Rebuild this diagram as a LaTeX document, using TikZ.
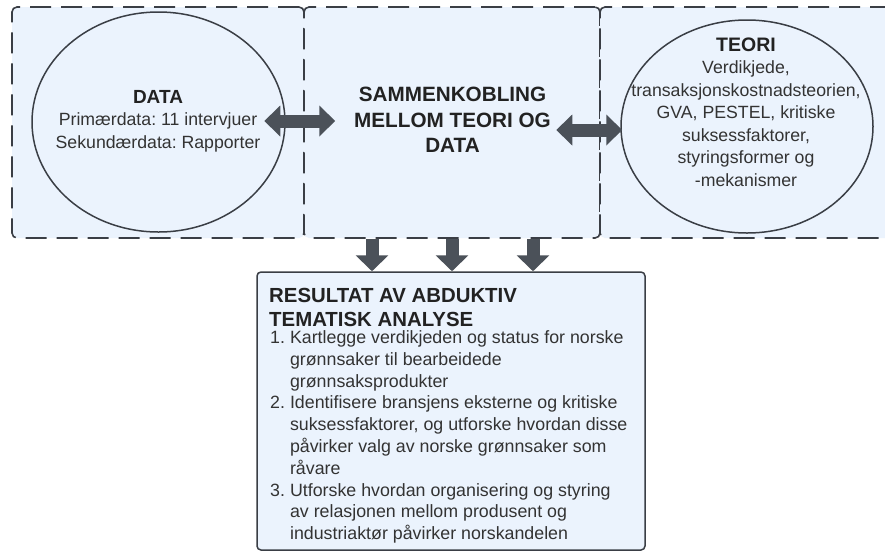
\documentclass[tikz,border=0pt]{standalone}
\usepackage{fontspec}
\setmainfont{Liberation Sans}
\frenchspacing
\usetikzlibrary{arrows.meta,shapes.geometric}
\definecolor{panelfill}{HTML}{EBF3FD}
\definecolor{linegray}{HTML}{3A3E45}
\definecolor{arrowgray}{HTML}{4B5159}
\definecolor{textgray}{HTML}{333333}
\definecolor{headgray}{HTML}{222222}

\begin{document}
\begin{tikzpicture}[x=1pt,y=-1pt,
  panel/.style={draw=linegray, fill=panelfill, line width=1.6pt,
    dash pattern=on 21pt off 10pt, rounded corners=5pt, inner sep=0pt},
  oval/.style={draw=linegray, line width=1.5pt, ellipse, inner sep=0pt},
  resultbox/.style={draw=linegray, fill=panelfill, line width=1.5pt,
    rounded corners=4pt, inner sep=0pt},
  txt/.style={inner sep=0pt, anchor=base, text=textgray},
  sidearrow/.style={draw=arrowgray, line width=13pt,
    {Triangle[length=16pt,width=30pt]}-{Triangle[length=16pt,width=30pt]}},
  downarrow/.style={draw=arrowgray, line width=13pt,
    -{Triangle[length=16pt,width=32pt]}},
]
\useasboundingbox (0,0) rectangle (885,552);
\fill[white] (0,0) rectangle (885,552);
\clip (0,0) rectangle (885,552);

% dashed panels
\node[panel, minimum width=292pt, minimum height=231pt] (pdata) at (158,122.5) {};
\node[panel, minimum width=296pt, minimum height=231pt] (pmid) at (452,122.5) {};
\node[panel, minimum width=296pt, minimum height=231pt] (pteori) at (748,122.5) {};

% ellipses
\node[oval, minimum width=253pt, minimum height=220pt] (data) at (158.5,122) {};
\node[oval, minimum width=252pt, minimum height=213pt] (teori) at (747,126.5) {};

% texts inside panels
\node[txt] (datatxt) at (158,103.5) {%
  \fontsize{17.7}{22.3}\selectfont
  \begin{tabular}[t]{@{}c@{}}
  \fontsize{19}{22.3}\selectfont\bfseries\color{headgray}DATA\\
  Primærdata: 11 intervjuer\\
  Sekundærdata: Rapporter
  \end{tabular}};

\node[txt] (midtxt) at (452.5,101.5) {%
  \fontsize{20.7}{25.5}\selectfont\bfseries\color{headgray}
  \begin{tabular}[t]{@{}c@{}}
  SAMMENKOBLING\\
  MELLOM TEORI OG\\
  DATA
  \end{tabular}};

\node[txt] (teoritxt) at (746,51) {%
  \fontsize{17.7}{22.5}\selectfont
  \begin{tabular}[t]{@{}c@{}}
  \fontsize{19.5}{22.5}\selectfont\bfseries\color{headgray}TEORI\\
  Verdikjede,\\
  transaksjonskostnadsteorien,\\
  GVA, PESTEL, kritiske\\
  suksessfaktorer,\\
  styringsformer og\\
  -mekanismer
  \end{tabular}};

% result box
\node[resultbox, minimum width=388pt, minimum height=278pt] (result) at (451,411) {};

\node[txt, anchor=base west] (reshead) at (269,302) {%
  \fontsize{20.4}{24}\selectfont\bfseries\color{headgray}
  \begin{tabular}[t]{@{}l@{}}
  RESULTAT AV ABDUKTIV\\
  TEMATISK ANALYSE
  \end{tabular}};

\node[txt, anchor=base west] (reslist) at (270,343.5) {%
  \fontsize{17.8}{21.8}\selectfont
  \begin{tabular}[t]{@{}l@{\hspace{5pt}}l@{}}
  1. & Kartlegge verdikjeden og status for norske\\
     & grønnsaker til bearbeidede\\
     & grønnsaksprodukter\\
  2. & Identifisere bransjens eksterne og kritiske\\
     & suksessfaktorer, og utforske hvordan disse\\
     & påvirker valg av norske grønnsaker som\\
     & råvare\\
  3. & Utforske hvordan organisering og styring\\
     & av relasjonen mellom produsent og\\
     & industriaktør påvirker norskandelen
  \end{tabular}};

% connectors
\draw[sidearrow] ([xshift=-21.5pt,yshift=1pt]data.east) -- ([xshift=49.5pt,yshift=1pt]data.east);
\draw[sidearrow] ([xshift=2pt,yshift=-3.5pt]teori.west) -- ([xshift=-64pt,yshift=-3.5pt]teori.west);

\draw[downarrow] ([xshift=-80pt]pmid.south) -- ([xshift=-79pt]result.north);
\draw[downarrow] (pmid.south) -- ([xshift=1pt]result.north);
\draw[downarrow] ([xshift=81pt]pmid.south) -- ([xshift=82pt]result.north);
\end{tikzpicture}
\end{document}
